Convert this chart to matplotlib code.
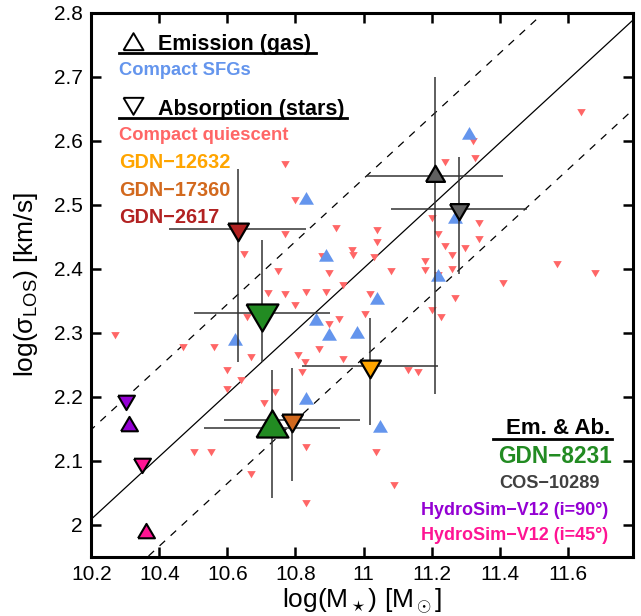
import matplotlib
matplotlib.use("Agg")
import matplotlib.pyplot as plt
from matplotlib.markers import MarkerStyle
import numpy as np

plt.rcParams['font.family'] = ['Liberation Sans', 'DejaVu Sans']
plt.rcParams['mathtext.fontset'] = 'custom'
plt.rcParams['mathtext.rm'] = 'Liberation Sans'
plt.rcParams['mathtext.it'] = 'Liberation Sans:italic'
plt.rcParams['mathtext.bf'] = 'Liberation Sans:bold'

# compact quiescent galaxies (absorption, stars)
cq_mass = [10.769, 10.799, 10.920, 10.770, 10.965, 10.970, 10.650, 10.879, 10.899, 10.750,
           10.941, 10.720, 10.770, 10.830, 10.890, 10.799, 10.659, 10.900, 10.929, 11.005,
           10.270, 10.470, 10.561, 10.870, 10.669, 10.809, 10.829, 10.939, 10.600, 10.640,
           10.820, 10.600, 10.740, 10.709, 10.501, 10.551, 10.830, 11.038, 10.670, 10.830,
           11.089, 11.130, 11.160, 11.030, 11.080, 11.180, 11.180, 11.260, 11.259, 11.019,
           11.270, 11.200, 11.229, 11.409, 11.568, 11.680, 11.639, 11.321, 11.239, 11.328,
           11.200, 11.339, 11.039, 11.039, 11.220, 11.339, 11.239, 11.299, 11.219]
cq_sigma = [2.566, 2.509, 2.466, 2.456, 2.431, 2.423, 2.425, 2.422, 2.395, 2.398,
            2.376, 2.364, 2.363, 2.365, 2.366, 2.345, 2.327, 2.316, 2.323, 2.332,
            2.298, 2.280, 2.279, 2.277, 2.264, 2.267, 2.256, 2.261, 2.244, 2.228,
            2.240, 2.214, 2.209, 2.192, 2.116, 2.116, 2.123, 2.116, 2.082, 2.036,
            2.064, 2.244, 2.241, 2.421, 2.398, 2.414, 2.400, 2.423, 2.401, 2.362,
            2.357, 2.337, 2.327, 2.379, 2.409, 2.395, 2.647, 2.602, 2.569, 2.575,
            2.482, 2.473, 2.462, 2.444, 2.457, 2.448, 2.437, 2.434, 2.392]

# compact star-forming galaxies (emission, gas)
sfg_mass = [10.830, 10.890, 10.859, 10.900, 10.981, 10.621, 10.830, 11.049, 11.040, 11.220, 11.270, 11.310]
sfg_sigma = [2.508, 2.418, 2.318, 2.296, 2.299, 2.287, 2.195, 2.151, 2.351, 2.388, 2.478, 2.610]

# individual objects: name, kind (em/ab), mass, sigma, mass err, sigma err low, sigma err high
obj_name = ['GDN-2617', 'GDN-8231', 'GDN-8231', 'GDN-17360', 'GDN-12632', 'COS-10289', 'COS-10289']
obj_kind = ['ab', 'ab', 'em', 'ab', 'ab', 'em', 'ab']
obj_mass = [10.630, 10.701, 10.731, 10.790, 11.020, 11.209, 11.280]
obj_sigma = [2.462, 2.332, 2.152, 2.164, 2.248, 2.546, 2.494]
obj_merr = [0.2, 0.2, 0.2, 0.2, 0.2, 0.2, 0.2]
obj_serr_lo = [0.207, 0.077, 0.110, 0.096, 0.092, 0.341, 0.102]
obj_serr_hi = [0.094, 0.114, 0.090, 0.082, 0.075, 0.154, 0.081]
obj_color = ['#b22222', '#228b22', '#228b22', '#d2691e', '#ffa500', '#606060', '#606060']
obj_size = [17, 26, 26, 17, 17, 15.5, 15.5]

# hydro simulation (V12)
sim_label = ['HydroSim\u2212V12 (i=90\u00b0)', 'HydroSim\u2212V12 (i=45\u00b0)']
sim_color = ['#9400d3', '#ff1493']
sim_mass_ab = [10.301, 10.350]
sim_sigma_ab = [2.195, 2.097]
sim_mass_em = [10.311, 10.361]
sim_sigma_em = [2.155, 1.987]

# relation: slope, value at 10.2, scatter
rel_slope = 0.49
rel_zero = 2.009
rel_scatter = 0.14

h = 1.7
tri_up = MarkerStyle([(-1, -h / 3), (1, -h / 3), (0, 2 * h / 3), (-1, -h / 3)], joinstyle='miter')
tri_dn = MarkerStyle([(-1, h / 3), (1, h / 3), (0, -2 * h / 3), (-1, h / 3)], joinstyle='miter')

fig = plt.figure(figsize=(6.41, 6.16), dpi=100)
ax = fig.add_axes([0.1423, 0.0963, 0.8448, 0.8826])

xl = np.array([10.0, 12.0])
ax.plot(xl, rel_zero + rel_slope * (xl - 10.2), color='k', lw=0.9, zorder=1)
for s in (-1, 1):
    ax.plot(xl, rel_zero + s * rel_scatter + rel_slope * (xl - 10.2), color='k', lw=0.9,
            linestyle=(0, (6, 6)), zorder=1)

ax.plot(cq_mass, cq_sigma, linestyle='none', marker=tri_dn, ms=6.9, mfc='#ff6666', mec='none', zorder=2)
ax.plot(sfg_mass, sfg_sigma, linestyle='none', marker=tri_up, ms=12.2, mfc='#6495ed', mec='none', zorder=2)

for i in range(len(obj_name)):
    ax.errorbar(obj_mass[i], obj_sigma[i], xerr=obj_merr[i],
                yerr=[[obj_serr_lo[i]], [obj_serr_hi[i]]],
                fmt='none', ecolor='#333333', elinewidth=1.1, capsize=0, zorder=3)
for i in range(len(obj_name)):
    mk = tri_up if obj_kind[i] == 'em' else tri_dn
    ax.plot(obj_mass[i], obj_sigma[i], linestyle='none', marker=mk, ms=obj_size[i],
            mfc=obj_color[i], mec='k', mew=1.6, zorder=4)

for i in range(2):
    ax.plot(sim_mass_ab[i], sim_sigma_ab[i], linestyle='none', marker=tri_dn, ms=13.8,
            mfc=sim_color[i], mec='k', mew=1.5, zorder=4)
    ax.plot(sim_mass_em[i], sim_sigma_em[i], linestyle='none', marker=tri_up, ms=13.8,
            mfc=sim_color[i], mec='k', mew=1.5, zorder=4)

ax.set_xlim(10.2, 11.791)
ax.set_ylim(1.9505, 2.8)
xt = [10.2, 10.4, 10.6, 10.8, 11.0, 11.2, 11.4, 11.6]
yt = [2.0, 2.1, 2.2, 2.3, 2.4, 2.5, 2.6, 2.7, 2.8]
ax.set_xticks(xt)
ax.set_xticklabels(['%g' % v for v in xt])
ax.set_yticks(yt)
ax.set_yticklabels(['%g' % v for v in yt])
ax.tick_params(direction='in', length=7.2, width=1.8, top=True, right=True, labelsize=15, pad=6)
for sp in ax.spines.values():
    sp.set_linewidth(2.2)

ax.set_xlabel(r'log(M$_\star$) [M$_\odot$]', fontsize=19)
ax.set_ylabel(r'log(σ$_\mathregular{LOS}$) [km/s]', fontsize=19)
ax.xaxis.set_label_coords(0.5, -0.055)
ax.yaxis.set_label_coords(-0.095, 0.5)

# legend block, top left
T = ax.transAxes
ax.plot([0.0763], [0.943], transform=T, linestyle='none', marker=tri_up, ms=16.3,
        mfc='none', mec='k', mew=1.4, clip_on=False)
ax.plot([0.0763], [0.8349], transform=T, linestyle='none', marker=tri_dn, ms=16.3,
        mfc='none', mec='k', mew=1.4, clip_on=False)
ax.text(0.1234, 0.9319, 'Emission (gas)', transform=T, fontsize=15.5, fontweight='bold', va='baseline')
ax.plot([0.0513, 0.4151], [0.9259, 0.9259], transform=T, color='k', lw=2)
ax.text(0.0513, 0.8859, 'Compact SFGs', transform=T, fontsize=13.2, fontweight='bold',
        color='#6495ed', va='baseline')
ax.text(0.1234, 0.8124, 'Absorption (stars)', transform=T, fontsize=15.5, fontweight='bold', va='baseline')
ax.plot([0.0513, 0.4724], [0.8063, 0.8063], transform=T, color='k', lw=2)
ax.text(0.0513, 0.7664, 'Compact quiescent', transform=T, fontsize=13.2, fontweight='bold',
        color='#ff6666', va='baseline')
ax.text(0.0513, 0.7144, 'GDN\u221212632', transform=T, fontsize=14.3, fontweight='bold',
        color='#ffa500', va='baseline')
ax.text(0.0513, 0.6632, 'GDN\u221217360', transform=T, fontsize=14.3, fontweight='bold',
        color='#d2691e', va='baseline')
ax.text(0.0513, 0.6130, 'GDN\u22122617', transform=T, fontsize=14.3, fontweight='bold',
        color='#b22222', va='baseline')

# legend block, bottom right
ax.text(0.9582, 0.2250, 'Em. & Ab.', transform=T, fontsize=16, fontweight='bold', ha='right', va='baseline')
ax.plot([0.7415, 0.9619], [0.2159, 0.2159], transform=T, color='k', lw=2)
ax.text(0.9619, 0.1718, 'GDN\u22128231', transform=T, fontsize=16.3, fontweight='bold',
        color='#228b22', ha='right', va='baseline')
ax.text(0.9397, 0.1269, 'COS\u221210289', transform=T, fontsize=13.1, fontweight='bold',
        color='#404040', ha='right', va='baseline')
ax.text(0.9545, 0.0765, sim_label[0], transform=T, fontsize=13, fontweight='bold',
        color=sim_color[0], ha='right', va='baseline')
ax.text(0.9545, 0.0307, sim_label[1], transform=T, fontsize=13, fontweight='bold',
        color=sim_color[1], ha='right', va='baseline')

fig.savefig('out.png', dpi=100)
